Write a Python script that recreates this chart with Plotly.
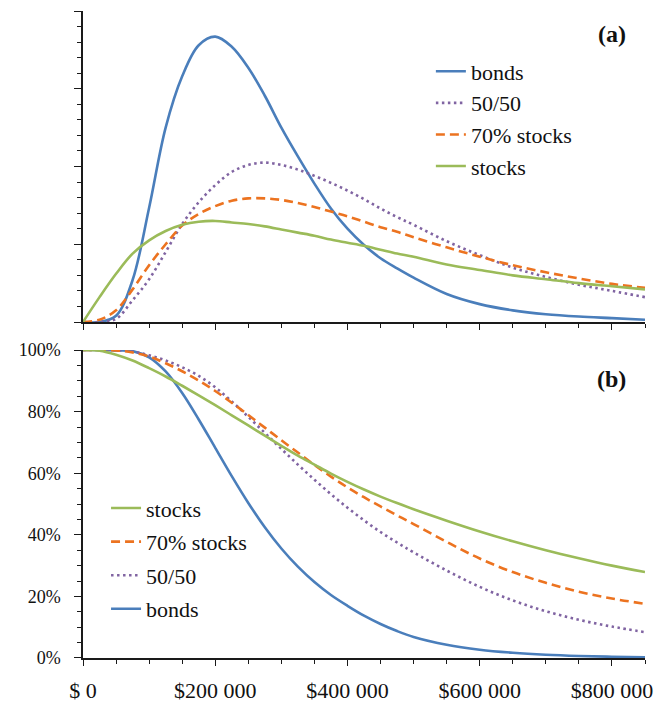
import plotly.graph_objects as go

# ---- data (x in thousands of dollars) ----
x_k = [0, 25, 50, 75, 100, 125, 150, 175, 200, 225, 250, 275, 300, 325, 350, 375,
       400, 425, 450, 475, 500, 550, 600, 650, 700, 750, 800, 850]
x_vals = [v * 1000 for v in x_k]

# (a) density (arbitrary units, one major tick = 1)
dens_bonds = [0, 0, 0.08, 0.54, 1.47, 2.50, 3.16, 3.56, 3.67, 3.54, 3.27, 2.91, 2.50, 2.13,
              1.78, 1.46, 1.20, 0.99, 0.82, 0.69, 0.57, 0.36, 0.23, 0.15, 0.10, 0.07, 0.05, 0.03]
dens_5050 = [0, 0, 0.04, 0.28, 0.55, 0.90, 1.26, 1.54, 1.76, 1.93, 2.02, 2.05, 2.02, 1.96,
             1.88, 1.79, 1.69, 1.58, 1.46, 1.35, 1.25, 1.04, 0.86, 0.70, 0.58, 0.48, 0.40, 0.32]
dens_70 = [0, 0.03, 0.15, 0.42, 0.73, 1.00, 1.24, 1.39, 1.49, 1.56, 1.59, 1.59, 1.57, 1.53,
           1.48, 1.42, 1.36, 1.29, 1.22, 1.16, 1.09, 0.96, 0.84, 0.73, 0.64, 0.56, 0.49, 0.44]
dens_stocks = [0, 0.32, 0.62, 0.88, 1.05, 1.17, 1.25, 1.29, 1.30, 1.28, 1.26, 1.23, 1.19, 1.15,
               1.11, 1.06, 1.02, 0.98, 0.93, 0.88, 0.84, 0.74, 0.67, 0.60, 0.55, 0.50, 0.46, 0.42]

# (b) probability of exceeding (fraction)
surv_bonds = [1.0, 1.0, 0.999, 0.9965, 0.9765, 0.9305, 0.8605, 0.7745, 0.6825, 0.5905, 0.5035,
              0.4245, 0.3555, 0.2965, 0.2465, 0.2045, 0.1695, 0.1375, 0.1105, 0.0875, 0.0685,
              0.043, 0.027, 0.017, 0.0105, 0.0065, 0.004, 0.002]
surv_5050 = [1.0, 1.0, 0.9995, 0.995, 0.983, 0.966, 0.944, 0.916, 0.879, 0.833, 0.783, 0.731,
             0.679, 0.628, 0.579, 0.532, 0.488, 0.447, 0.409, 0.375, 0.343, 0.284, 0.231,
             0.187, 0.152, 0.124, 0.102, 0.084]
surv_70 = [1.0, 1.0, 0.999, 0.992, 0.979, 0.957, 0.931, 0.901, 0.867, 0.829, 0.789, 0.748,
           0.707, 0.667, 0.627, 0.589, 0.554, 0.522, 0.492, 0.463, 0.435, 0.377, 0.323,
           0.279, 0.244, 0.215, 0.193, 0.176]
surv_stocks = [1.0, 0.998, 0.985, 0.966, 0.941, 0.914, 0.884, 0.853, 0.821, 0.788, 0.755, 0.722,
               0.689, 0.657, 0.628, 0.599, 0.572, 0.547, 0.524, 0.503, 0.483, 0.446, 0.411,
               0.379, 0.350, 0.324, 0.300, 0.279]

series_names = ["bonds", "50/50", "70% stocks", "stocks"]
x_tickvals = [0, 200000, 400000, 600000, 800000]
x_ticktext = ["$ 0", "$200 000", "$400 000", "$600 000", "$800 000"]

colors = ["#4a7ebb", "#8064a2", "#ec7320", "#9bbb59"]
dashes = ["solid", "2.5px,3.5px", "9px,5px", "solid"]
bottom_rank = [4, 3, 2, 1]

FONT = "Liberation Serif"
AX = "#1a1a1a"

fig = go.Figure()
dens = [dens_bonds, dens_5050, dens_70, dens_stocks]
surv = [surv_bonds, surv_5050, surv_70, surv_stocks]
for i, name in enumerate(series_names):
    fig.add_trace(go.Scatter(x=x_vals, y=dens[i], mode="lines", name=name,
                             line=dict(color=colors[i], width=2.6, dash=dashes[i], shape="spline", smoothing=1.0),
                             xaxis="x", yaxis="y", legend="legend", legendgroup="a" + str(i),
                             legendrank=i + 1))
for i, name in enumerate(series_names):
    fig.add_trace(go.Scatter(x=x_vals, y=surv[i], mode="lines", name=name,
                             line=dict(color=colors[i], width=2.6, dash=dashes[i], shape="spline", smoothing=1.0),
                             xaxis="x2", yaxis="y2", legend="legend2", legendgroup="b" + str(i),
                             legendrank=bottom_rank[i]))

top_dom = [0.5193, 1.0]
bot_dom = [0.0, 0.476]
xr = [0, 850000]

common_x = dict(range=xr, showgrid=False, zeroline=False, linecolor=AX, linewidth=1.5,
                tickcolor=AX, tickvals=x_tickvals, domain=[0, 1])

fig.update_layout(
    width=657, height=703,
    margin=dict(l=83, r=12, t=11, b=45, autoexpand=False),
    plot_bgcolor="white", paper_bgcolor="white",
    font=dict(family=FONT, size=18, color="#111111"),
    showlegend=True,
    xaxis=dict(common_x, anchor="y", showline=True, ticks="outside", ticklen=6, tickwidth=1.3,
               showticklabels=False,
               minor=dict(ticks="outside", ticklen=4, tickwidth=1, tickcolor=AX, dtick=50000, tick0=0)),
    xaxis3=dict(common_x, anchor="y", overlaying="x", showline=False, ticks="inside", ticklen=6,
                tickwidth=1.3, showticklabels=False),
    yaxis=dict(domain=top_dom, range=[0, 4], anchor="x", showgrid=False, zeroline=False,
               showline=True, linecolor=AX, linewidth=1.5, ticks="outside", ticklen=7, tickwidth=1.3,
               tickcolor=AX, dtick=1, tick0=0, showticklabels=False,
               minor=dict(ticks="outside", ticklen=4, tickwidth=1, tickcolor=AX, dtick=0.2, tick0=0)),
    yaxis3=dict(domain=top_dom, range=[0, 4], anchor="x", overlaying="y", side="left",
                showgrid=False, zeroline=False, showline=False, ticks="inside", ticklen=7,
                tickwidth=1.3, tickcolor=AX, dtick=1, tick0=0, showticklabels=False),
    xaxis2=dict(common_x, anchor="y2", showline=True, ticks="outside", ticklen=6, tickwidth=1.3,
                ticktext=x_ticktext, showticklabels=True, ticklabelstandoff=6,
                tickfont=dict(family=FONT, size=22),
                minor=dict(ticks="outside", ticklen=4, tickwidth=1, tickcolor=AX, dtick=50000, tick0=0)),
    xaxis4=dict(common_x, anchor="y2", overlaying="x2", showline=False, ticks="inside", ticklen=6,
                tickwidth=1.3, showticklabels=False),
    yaxis2=dict(domain=bot_dom, range=[0, 1], anchor="x2", showgrid=False, zeroline=False,
                showline=True, linecolor=AX, linewidth=1.5, ticks="outside", ticklen=7, tickwidth=1.3,
                tickcolor=AX, dtick=0.2, tick0=0, tickformat=".0%", ticklabelstandoff=10,
                tickfont=dict(family=FONT, size=18),
                minor=dict(ticks="outside", ticklen=4, tickwidth=1, tickcolor=AX, dtick=0.05, tick0=0)),
    yaxis4=dict(domain=bot_dom, range=[0, 1], anchor="x2", overlaying="y2", side="left",
                showgrid=False, zeroline=False, showline=False, ticks="inside", ticklen=7,
                tickwidth=1.3, tickcolor=AX, dtick=0.2, tick0=0, showticklabels=False),
    legend=dict(x=0.619, y=0.939, xanchor="left", yanchor="top", bgcolor="rgba(0,0,0,0)",
                font=dict(family=FONT, size=22), tracegroupgap=0, traceorder="grouped",
                itemwidth=30),
    legend2=dict(x=0.041, y=0.264, xanchor="left", yanchor="top", bgcolor="rgba(0,0,0,0)",
                 font=dict(family=FONT, size=22), tracegroupgap=2, traceorder="grouped",
                 itemwidth=30),
    annotations=[
        dict(text="<b>(a)</b>", x=0.97, y=0.965, xref="paper", yref="paper", xanchor="right",
             yanchor="middle", showarrow=False, font=dict(family=FONT, size=24)),
        dict(text="<b>(b)</b>", x=0.97, y=0.431, xref="paper", yref="paper", xanchor="right",
             yanchor="middle", showarrow=False, font=dict(family=FONT, size=24)),
    ],
)

fig.write_html("out.html", config={"displayModeBar": False},
               post_script="document.body.style.margin='0';document.body.style.overflow='hidden';")
